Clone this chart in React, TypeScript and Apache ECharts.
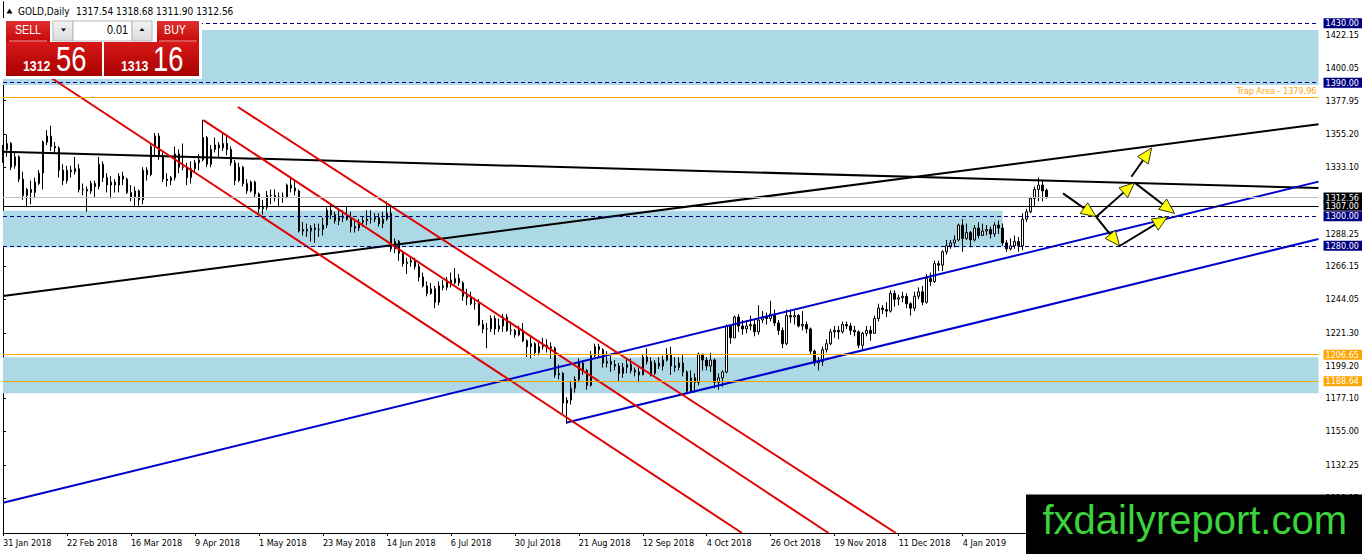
import React, { useEffect, useRef } from "react";
import * as echarts from "echarts";

const FONT = "Tahoma, 'DejaVu Sans Condensed', 'Liberation Sans', sans-serif";
const ARIAL = "'Liberation Sans', Arial, sans-serif";

// ---------- Daily candles, rows are [open, high, low, close] ----------
const JAN_2018 = [[1340, 1348, 1336, 1345]];
const FEB_2018 = [
  [1345, 1355, 1340, 1349], [1349, 1350, 1331, 1333], [1334, 1343, 1332, 1340], [1340, 1341, 1323, 1325],
  [1325, 1330, 1311, 1314], [1314, 1319, 1306, 1318], [1318, 1324, 1308, 1316], [1316, 1326, 1312, 1323],
  [1322, 1331, 1321, 1329], [1329, 1351, 1318, 1350], [1350, 1358, 1348, 1354], [1354, 1361, 1344, 1347],
  [1347, 1350, 1342, 1346], [1346, 1347, 1326, 1331], [1331, 1335, 1321, 1324], [1324, 1334, 1322, 1331],
  [1331, 1334, 1326, 1330], [1330, 1340, 1328, 1332], [1332, 1335, 1316, 1318], [1318, 1322, 1314, 1318],
];
const MAR_2018 = [
  [1318, 1320, 1303, 1317], [1317, 1324, 1315, 1322], [1322, 1324, 1313, 1320], [1320, 1340, 1318, 1335],
  [1335, 1337, 1323, 1326], [1326, 1329, 1316, 1321], [1321, 1327, 1312, 1323], [1323, 1325, 1316, 1321],
  [1321, 1329, 1316, 1327], [1327, 1330, 1321, 1325], [1325, 1326, 1315, 1316], [1316, 1321, 1310, 1313],
  [1313, 1320, 1307, 1317], [1317, 1318, 1307, 1311], [1311, 1333, 1308, 1331], [1331, 1333, 1324, 1328],
  [1328, 1349, 1327, 1347], [1347, 1356, 1340, 1354], [1354, 1356, 1338, 1341], [1341, 1343, 1323, 1325],
  [1325, 1329, 1320, 1324], [1324, 1327, 1321, 1326],
];
const APR_2018 = [
  [1326, 1347, 1324, 1342], [1342, 1345, 1329, 1333], [1333, 1349, 1331, 1333], [1333, 1336, 1321, 1326],
  [1326, 1337, 1322, 1332], [1332, 1338, 1329, 1336], [1336, 1342, 1331, 1338], [1338, 1365, 1337, 1353],
  [1353, 1354, 1333, 1335], [1335, 1348, 1333, 1345], [1345, 1353, 1343, 1348], [1348, 1350, 1340, 1346],
  [1346, 1356, 1344, 1349], [1349, 1354, 1341, 1345], [1345, 1347, 1334, 1336], [1336, 1338, 1321, 1324],
  [1324, 1336, 1323, 1333], [1333, 1334, 1320, 1322], [1322, 1325, 1315, 1317], [1317, 1324, 1316, 1323],
  [1323, 1324, 1313, 1315],
];
const MAY_2018 = [
  [1315, 1316, 1302, 1305], [1305, 1311, 1301, 1306], [1306, 1317, 1304, 1314], [1314, 1318, 1308, 1314],
  [1314, 1318, 1310, 1313], [1313, 1316, 1306, 1313], [1313, 1316, 1309, 1313], [1313, 1322, 1312, 1321],
  [1321, 1326, 1316, 1319], [1319, 1325, 1314, 1317], [1317, 1318, 1289, 1290], [1290, 1296, 1287, 1291],
  [1291, 1295, 1286, 1290], [1290, 1294, 1283, 1292], [1292, 1295, 1282, 1291], [1291, 1295, 1286, 1291],
  [1291, 1299, 1287, 1294], [1294, 1306, 1292, 1304], [1304, 1308, 1298, 1301], [1301, 1303, 1295, 1297],
  [1297, 1305, 1294, 1299], [1299, 1304, 1296, 1300], [1300, 1307, 1297, 1298],
];
const JUN_2018 = [
  [1298, 1303, 1289, 1293], [1293, 1297, 1289, 1292], [1292, 1298, 1290, 1296], [1296, 1300, 1293, 1297],
  [1297, 1304, 1294, 1298], [1298, 1304, 1295, 1298], [1298, 1302, 1296, 1299], [1299, 1302, 1293, 1295],
  [1295, 1303, 1292, 1298], [1298, 1310, 1297, 1302], [1302, 1306, 1276, 1278], [1278, 1285, 1275, 1283],
  [1283, 1284, 1270, 1275], [1275, 1276, 1266, 1268], [1268, 1272, 1261, 1269], [1269, 1273, 1266, 1270],
  [1270, 1272, 1264, 1266], [1266, 1268, 1256, 1259], [1259, 1262, 1252, 1253], [1253, 1256, 1246, 1248],
  [1248, 1255, 1247, 1251],
];
const JUL_2018 = [
  [1251, 1253, 1238, 1242], [1242, 1256, 1240, 1253], [1253, 1257, 1250, 1252], [1252, 1259, 1250, 1257],
  [1257, 1262, 1252, 1255], [1255, 1265, 1254, 1258], [1258, 1261, 1253, 1255], [1255, 1256, 1243, 1246],
  [1246, 1251, 1240, 1245], [1245, 1249, 1240, 1241], [1241, 1245, 1237, 1241], [1241, 1244, 1226, 1227],
  [1227, 1230, 1221, 1224], [1224, 1228, 1211, 1224], [1224, 1233, 1222, 1231], [1231, 1233, 1220, 1224],
  [1224, 1231, 1222, 1226], [1226, 1234, 1222, 1232], [1232, 1234, 1222, 1223], [1223, 1229, 1220, 1223],
  [1223, 1224, 1218, 1220], [1220, 1226, 1219, 1223],
];
const AUG_2018 = [
  [1223, 1228, 1215, 1216], [1216, 1217, 1205, 1212], [1212, 1219, 1204, 1214], [1214, 1215, 1206, 1208],
  [1208, 1215, 1206, 1212], [1212, 1218, 1210, 1213], [1213, 1217, 1208, 1212], [1212, 1215, 1204, 1211],
  [1211, 1212, 1191, 1193], [1193, 1200, 1190, 1194], [1194, 1195, 1167, 1174], [1174, 1178, 1160, 1176],
  [1176, 1189, 1173, 1184], [1184, 1192, 1181, 1190], [1190, 1204, 1188, 1201], [1201, 1203, 1193, 1196],
  [1196, 1197, 1183, 1186], [1186, 1209, 1185, 1206], [1206, 1214, 1205, 1212], [1212, 1214, 1205, 1210],
  [1210, 1211, 1198, 1201], [1201, 1209, 1198, 1202], [1202, 1206, 1195, 1200],
];
const SEP_2018 = [
  [1200, 1203, 1196, 1199], [1199, 1201, 1189, 1194], [1194, 1201, 1191, 1198], [1198, 1204, 1194, 1200],
  [1200, 1204, 1194, 1196], [1196, 1198, 1192, 1195], [1195, 1198, 1188, 1193], [1193, 1207, 1193, 1205],
  [1205, 1211, 1200, 1202], [1202, 1205, 1192, 1194], [1194, 1203, 1193, 1201], [1201, 1205, 1197, 1199],
  [1199, 1206, 1196, 1203], [1203, 1211, 1202, 1207], [1207, 1212, 1193, 1199], [1199, 1205, 1195, 1198],
  [1198, 1205, 1196, 1201], [1201, 1207, 1192, 1195], [1195, 1196, 1180, 1182], [1182, 1196, 1181, 1191],
];
const OCT_2018 = [
  [1191, 1194, 1181, 1188], [1188, 1208, 1186, 1207], [1207, 1207, 1196, 1203], [1203, 1205, 1196, 1199],
  [1199, 1208, 1195, 1203], [1203, 1204, 1184, 1188], [1188, 1194, 1183, 1191], [1191, 1196, 1185, 1195],
  [1195, 1227, 1194, 1226], [1226, 1226, 1214, 1218], [1218, 1233, 1218, 1232], [1232, 1234, 1222, 1226],
  [1226, 1230, 1220, 1224], [1224, 1230, 1221, 1226], [1226, 1233, 1223, 1227], [1227, 1230, 1219, 1222],
  [1222, 1240, 1220, 1230], [1230, 1236, 1228, 1232], [1232, 1235, 1227, 1231], [1231, 1243, 1229, 1234],
  [1234, 1237, 1226, 1228], [1228, 1230, 1220, 1223], [1223, 1225, 1211, 1214],
];
const NOV_2018 = [
  [1214, 1237, 1213, 1233], [1233, 1237, 1228, 1232], [1232, 1236, 1227, 1233], [1233, 1234, 1225, 1226],
  [1226, 1236, 1223, 1227], [1227, 1229, 1221, 1224], [1224, 1225, 1207, 1209], [1209, 1210, 1199, 1201],
  [1201, 1205, 1196, 1202], [1202, 1212, 1199, 1210], [1210, 1217, 1208, 1214], [1214, 1224, 1213, 1222],
  [1222, 1226, 1218, 1223], [1223, 1226, 1217, 1222], [1222, 1229, 1221, 1227], [1227, 1229, 1224, 1226],
  [1226, 1228, 1220, 1223], [1223, 1226, 1219, 1222], [1222, 1223, 1211, 1213], [1213, 1222, 1210, 1221],
  [1221, 1226, 1219, 1223], [1223, 1226, 1216, 1221],
];
const DEC_2018 = [
  [1221, 1233, 1221, 1231], [1231, 1241, 1229, 1238], [1238, 1240, 1234, 1237], [1237, 1242, 1232, 1236],
  [1236, 1250, 1235, 1248], [1248, 1250, 1239, 1244], [1244, 1247, 1240, 1245], [1245, 1249, 1242, 1246],
  [1246, 1248, 1238, 1241], [1241, 1242, 1233, 1238], [1238, 1249, 1236, 1246], [1246, 1252, 1244, 1249],
  [1249, 1253, 1240, 1242], [1242, 1261, 1241, 1258], [1258, 1262, 1253, 1256], [1256, 1270, 1255, 1268],
  [1268, 1270, 1263, 1267], [1267, 1277, 1263, 1276], [1276, 1284, 1274, 1280], [1280, 1284, 1278, 1282],
];
const JAN_2019 = [
  [1282, 1287, 1279, 1284], [1284, 1295, 1283, 1294], [1294, 1298, 1276, 1285], [1285, 1295, 1284, 1289],
  [1289, 1290, 1279, 1284], [1284, 1294, 1283, 1292], [1292, 1296, 1285, 1287], [1287, 1295, 1287, 1290],
  [1290, 1294, 1287, 1291], [1291, 1293, 1285, 1288], [1288, 1296, 1286, 1294], [1294, 1297, 1288, 1292],
  [1292, 1295, 1280, 1282], [1282, 1284, 1276, 1278], [1278, 1285, 1277, 1280], [1280, 1287, 1278, 1283],
  [1283, 1286, 1276, 1280], [1280, 1302, 1277, 1298], [1298, 1305, 1296, 1303], [1303, 1313, 1302, 1312],
  [1312, 1320, 1307, 1318], [1318, 1326, 1310, 1321],
];
const FEB_2019 = [[1321, 1324, 1310, 1317], [1317.54, 1318.68, 1311.9, 1312.56]];

// ---------- axes ----------
const Y_MIN = 1086.4;
const Y_MAX = 1444.4;
const Y_TICKS = [1422.15, 1400.05, 1377.95, 1355.2, 1333.1, 1288.25, 1266.15, 1244.05, 1221.3, 1199.2, 1177.1, 1155.0, 1132.25, 1110.15];
const SLOTS = 330; // bar slots incl. empty shift space on the right
const LABEL_EVERY = 16;
const LAST_LABEL = 240;
const FIRST_DAY = [2018, 0, 31];
const CLOSED_DAYS = ["2018-12-25", "2019-01-01"];
const MONTH_NAMES = ["Jan", "Feb", "Mar", "Apr", "May", "Jun", "Jul", "Aug", "Sep", "Oct", "Nov", "Dec"];

// ---------- horizontal levels ----------
const NAVY_LEVELS = [1430, 1390, 1300, 1280];
const ORANGE_LEVELS = [1206.65, 1188.64];
const TRAP_LEVEL = 1379.96;
const BID_LEVEL = 1312.56;
const BLACK_LEVEL = 1307;

// ---------- zones: [top, bottom, fromBar, toBar] (null = full width) ----------
const ZONES = [
  [1425.5, 1388.5, null, null],
  [1303.7, 1279.0, 0, 250],
  [1204.85, 1180.6, null, null],
];

// ---------- trend lines: [bar1, price1, bar2, price2] ----------
const BLACK_LINES = [[0, 1343.5, 329, 1319.0], [0, 1246.2, 329, 1362.0]];
const BLUE_LINES = [[0, 1106.85, 329, 1323.3], [141, 1160.9, 329, 1284.6]];
const RED_LINES = [[9.25, 1398.2, 184.8, 1086.4], [50.1, 1364.8, 206.45, 1086.4], [58.75, 1373.6, 223.3, 1086.4]];
const ARROWS = [
  [265.1, 1315.4, 273.4, 1299.6],
  [273.4, 1299.6, 283.0, 1322.6],
  [283.0, 1322.6, 293.0, 1301.9],
  [273.4, 1299.6, 279.25, 1279.9],
  [279.25, 1279.9, 291.25, 1299.6],
  [282.2, 1326.6, 287.25, 1346.0],
];

const HEADER_NAME = "GOLD,Daily";
const HEADER_OHLC = "1317.54 1318.68 1311.90 1312.56";
const SELL_BIG = "1312";
const SELL_SMALL = "56";
const BUY_BIG = "1313";
const BUY_SMALL = "16";
const LOT = "0.01";
const LOGO = "fxdailyreport.com";

function buildDates(n: number): string[] {
  const out: string[] = [];
  const d = new Date(Date.UTC(FIRST_DAY[0], FIRST_DAY[1], FIRST_DAY[2]));
  while (out.length < n) {
    const wd = d.getUTCDay();
    const iso = d.toISOString().slice(0, 10);
    if (wd !== 0 && wd !== 6 && !CLOSED_DAYS.includes(iso)) {
      out.push(`${d.getUTCDate()} ${MONTH_NAMES[d.getUTCMonth()]} ${d.getUTCFullYear()}`);
    }
    d.setUTCDate(d.getUTCDate() + 1);
  }
  return out;
}

const redGrad = (a: string, b: string) =>
  new echarts.graphic.LinearGradient(0, 0, 0, 1, [
    { offset: 0, color: a },
    { offset: 1, color: b },
  ]);

export default function App() {
  const ref = useRef<HTMLDivElement>(null);

  useEffect(() => {
    if (!ref.current) return;
    const chart = echarts.init(ref.current, undefined, { renderer: "svg" });
    const dates = buildDates(SLOTS);
    const rows = [
      ...JAN_2018, ...FEB_2018, ...MAR_2018, ...APR_2018, ...MAY_2018, ...JUN_2018, ...JUL_2018,
      ...AUG_2018, ...SEP_2018, ...OCT_2018, ...NOV_2018, ...DEC_2018, ...JAN_2019, ...FEB_2019,
    ];
    const candles = rows.map(([o, h, l, c]) => [o, c, l, h]);
    const showIdx = (i: number) => i % LABEL_EVERY === 0 && i <= LAST_LABEL;

    const badge = (bg: string) => ({
      show: true,
      position: "end",
      distance: 5,
      formatter: (p: any) => Number(p.value).toFixed(2),
      color: "#ffffff",
      backgroundColor: bg,
      fontSize: 9,
      fontFamily: FONT,
      lineHeight: 9,
      padding: [1, 8, 0, 2],
    });

    const markLines: any[] = [];
    NAVY_LEVELS.forEach((v) =>
      markLines.push({ yAxis: v, lineStyle: { color: "#000080", type: [4, 3], width: 1 }, label: badge("#000080") })
    );
    markLines.push({
      yAxis: TRAP_LEVEL,
      lineStyle: { color: "#FFA500", type: "solid", width: 1.2 },
      label: {
        show: true,
        position: "insideEndTop",
        distance: 2,
        formatter: (p: any) => `Trap Area - ${Number(p.value).toFixed(2)}`,
        color: "#FFA500",
        fontSize: 9,
        fontFamily: FONT,
      },
    });
    ORANGE_LEVELS.forEach((v) =>
      markLines.push({ yAxis: v, lineStyle: { color: "#FFA500", type: "solid", width: 1.2 }, label: badge("#FFA500") })
    );
    markLines.push({ yAxis: BID_LEVEL, lineStyle: { color: "#C0C0C0", type: "solid", width: 1 }, label: badge("#000000") });
    markLines.push({ yAxis: BLACK_LEVEL, lineStyle: { color: "#000000", type: "solid", width: 1 }, label: badge("#000000") });

    const markAreas = ZONES.map(([top, bottom, from, to]) =>
      from === null
        ? [{ yAxis: top }, { yAxis: bottom }]
        : [
            { xAxis: dates[from as number], yAxis: top },
            { xAxis: dates[to as number], yAxis: bottom },
          ]
    );

    const lineSeries = (lines: number[][], color: string) =>
      lines.map((l) => ({
        type: "line",
        xAxisIndex: 1,
        yAxisIndex: 0,
        data: [
          [l[0], l[1]],
          [l[2], l[3]],
        ],
        symbol: "none",
        silent: true,
        z: 4,
        lineStyle: { color, width: 2 },
      }));

    const g: any[] = [
      // header
      { type: "polygon", z: 100, shape: { points: [[6.5, 13.5], [9.5, 8.5], [12.5, 13.5]] }, style: { fill: "#000" } },
      { type: "text", z: 100, x: 18, y: 11, style: { text: HEADER_NAME, fill: "#000", fontSize: 10, fontFamily: FONT, verticalAlign: "middle" } },
      { type: "text", z: 100, x: 76, y: 11, style: { text: HEADER_OHLC, fill: "#000", fontSize: 10, fontFamily: FONT, verticalAlign: "middle" } },
      // panel background
      { type: "rect", z: 100, shape: { x: 3, y: 18, width: 199, height: 61 }, style: { fill: "#ffffff" } },
      // sell
      { type: "rect", z: 101, shape: { x: 6, y: 21, width: 44, height: 21 }, style: { fill: redGrad("#E03030", "#C40808") } },
      { type: "rect", z: 101, shape: { x: 6, y: 42, width: 96, height: 34 }, style: { fill: redGrad("#D81818", "#A80000") } },
      { type: "line", z: 102, shape: { x1: 9, y1: 41, x2: 47, y2: 41 }, style: { stroke: "#F29A9A", lineWidth: 1 } },
      { type: "text", z: 102, x: 28, y: 30, scaleX: 0.82, style: { text: "SELL", fill: "#fff", fontSize: 13, fontFamily: ARIAL, align: "center", verticalAlign: "middle" } },
      { type: "text", z: 102, x: 23, y: 66.5, scaleX: 0.82, style: { text: SELL_BIG, fill: "#fff", fontSize: 15, fontWeight: "bold", fontFamily: ARIAL, verticalAlign: "middle" } },
      { type: "text", z: 102, x: 56, y: 59.5, scaleX: 0.78, style: { text: SELL_SMALL, fill: "#fff", fontSize: 35, fontFamily: ARIAL, verticalAlign: "middle" } },
      // lot control
      { type: "rect", z: 101, shape: { x: 53, y: 21, width: 20, height: 20 }, style: { fill: redGrad("#F4F4F4", "#DADADA"), stroke: "#B8B8B8", lineWidth: 1 } },
      { type: "polygon", z: 102, shape: { points: [[61, 28.5], [66, 28.5], [63.5, 31.5]] }, style: { fill: "#000" } },
      { type: "rect", z: 101, shape: { x: 73, y: 21, width: 59, height: 20 }, style: { fill: "#fff", stroke: "#B8B8B8", lineWidth: 1 } },
      { type: "text", z: 102, x: 128, y: 30, scaleX: 0.9, style: { text: LOT, fill: "#000", fontSize: 12, fontFamily: ARIAL, align: "right", verticalAlign: "middle" } },
      { type: "rect", z: 101, shape: { x: 132, y: 21, width: 20, height: 20 }, style: { fill: redGrad("#F4F4F4", "#DADADA"), stroke: "#B8B8B8", lineWidth: 1 } },
      { type: "polygon", z: 102, shape: { points: [[139.5, 31], [144.5, 31], [142, 28]] }, style: { fill: "#000" } },
      // buy
      { type: "rect", z: 101, shape: { x: 157, y: 21, width: 42, height: 21 }, style: { fill: redGrad("#E03030", "#C40808") } },
      { type: "rect", z: 101, shape: { x: 104, y: 42, width: 95, height: 34 }, style: { fill: redGrad("#D81818", "#A80000") } },
      { type: "line", z: 102, shape: { x1: 159, y1: 41, x2: 197, y2: 41 }, style: { stroke: "#F29A9A", lineWidth: 1 } },
      { type: "text", z: 102, x: 175, y: 30, scaleX: 0.82, style: { text: "BUY", fill: "#fff", fontSize: 13, fontFamily: ARIAL, align: "center", verticalAlign: "middle" } },
      { type: "text", z: 102, x: 121, y: 66.5, scaleX: 0.82, style: { text: BUY_BIG, fill: "#fff", fontSize: 15, fontWeight: "bold", fontFamily: ARIAL, verticalAlign: "middle" } },
      { type: "text", z: 102, x: 153, y: 59.5, scaleX: 0.78, style: { text: BUY_SMALL, fill: "#fff", fontSize: 35, fontFamily: ARIAL, verticalAlign: "middle" } },
      // logo
      { type: "rect", z: 100, shape: { x: 1026, y: 494.5, width: 340, height: 62 }, style: { fill: "#000" } },
      { type: "text", z: 101, x: 1042.5, y: 520, style: { text: LOGO, fill: "#3CD23C", fontSize: 40, fontFamily: ARIAL, verticalAlign: "middle" } },
    ];

    chart.setOption({
      animation: false,
      backgroundColor: "#ffffff",
      grid: { left: 3, right: 43, top: 2, bottom: 21, containLabel: false },
      xAxis: [
        {
          type: "category",
          data: dates,
          boundaryGap: false,
          position: "bottom",
          axisLine: { show: true, onZero: false, lineStyle: { color: "#000", width: 1 } },
          axisTick: { show: true, length: 3, interval: (i: number) => showIdx(i), lineStyle: { color: "#000" } },
          axisLabel: {
            show: true,
            interval: (i: number) => showIdx(i),
            align: "left",
            margin: 5,
            color: "#000",
            fontSize: 9,
            fontFamily: FONT,
          },
          splitLine: { show: false },
        },
        { type: "value", min: 0, max: SLOTS - 1, show: false },
      ],
      yAxis: [
        {
          type: "value",
          position: "right",
          min: Y_MIN,
          max: Y_MAX,
          axisLine: { show: true, lineStyle: { color: "#000", width: 1 } },
          axisTick: { show: true, length: 3, customValues: Y_TICKS, lineStyle: { color: "#000" } },
          axisLabel: {
            show: true,
            customValues: Y_TICKS,
            formatter: (v: number) => v.toFixed(2),
            margin: 7,
            color: "#000",
            fontSize: 9,
            fontFamily: FONT,
          },
          splitLine: { show: false },
        },
        {
          type: "value",
          position: "left",
          min: 0,
          max: 1,
          axisLine: { show: true, lineStyle: { color: "#000", width: 1 } },
          axisTick: { show: false },
          axisLabel: { show: false },
          splitLine: { show: false },
        },
      ],
      series: [
        {
          type: "candlestick",
          xAxisIndex: 0,
          yAxisIndex: 0,
          data: candles,
          barWidth: 2,
          z: 2,
          silent: true,
          itemStyle: { color: "#ffffff", color0: "#000000", borderColor: "#000000", borderColor0: "#000000", borderWidth: 1 },
          markArea: { silent: true, itemStyle: { color: "#ADD8E6" }, data: markAreas },
          markLine: { silent: true, symbol: ["none", "none"], animation: false, data: markLines },
        },
        ...lineSeries(BLACK_LINES, "#000000"),
        ...lineSeries(BLUE_LINES, "#0000CC"),
        ...lineSeries(RED_LINES, "#E00000"),
        {
          type: "custom",
          xAxisIndex: 1,
          yAxisIndex: 0,
          z: 6,
          silent: true,
          data: ARROWS,
          encode: { x: [0, 2], y: [1, 3] },
          renderItem: (_params: any, api: any) => {
            const a = api.coord([api.value(0), api.value(1)]);
            const b = api.coord([api.value(2), api.value(3)]);
            const dx = b[0] - a[0];
            const dy = b[1] - a[1];
            const len = Math.hypot(dx, dy) || 1;
            const ux = dx / len;
            const uy = dy / len;
            const L = 15;
            const W = 6.5;
            const bx = b[0] - ux * L;
            const by = b[1] - uy * L;
            const nx = -uy;
            const ny = ux;
            return {
              type: "group",
              children: [
                { type: "line", shape: { x1: a[0], y1: a[1], x2: bx, y2: by }, style: { stroke: "#000", lineWidth: 2 } },
                {
                  type: "polygon",
                  shape: { points: [[b[0], b[1]], [bx + nx * W, by + ny * W], [bx - nx * W, by - ny * W]] },
                  style: { fill: "#FFFF00", stroke: "#000", lineWidth: 0.8 },
                },
              ],
            };
          },
        },
      ],
      graphic: { elements: g },
    });

    return () => chart.dispose();
  }, []);

  return (
    <div
      ref={ref}
      style={{ position: "fixed", left: 0, top: 0, width: 1362, height: 554, background: "#fff" }}
    />
  );
}
